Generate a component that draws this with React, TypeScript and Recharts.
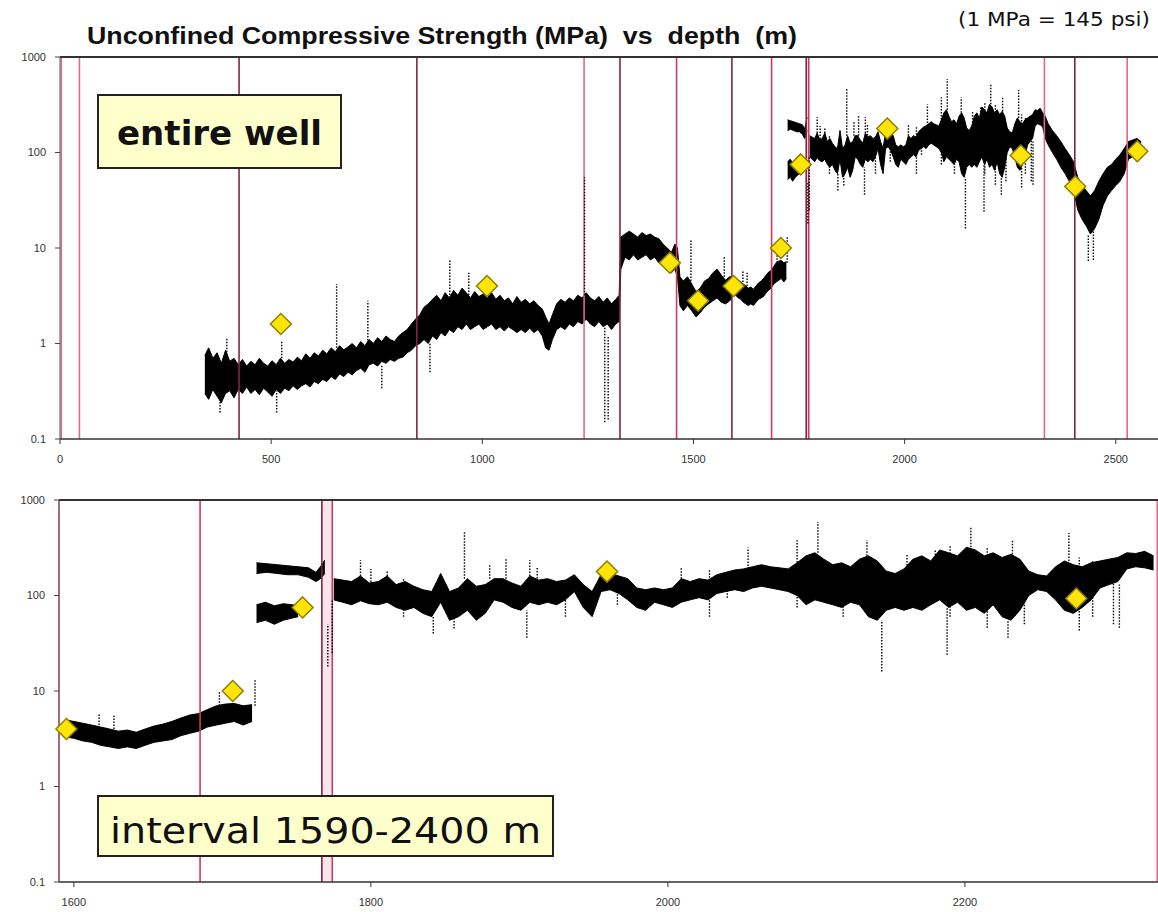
import React from 'react';
import { ComposedChart, XAxis, YAxis, Area, Line, ReferenceLine, ReferenceArea } from 'recharts';

// ---------- data (depth m, UCS MPa) ----------
const yTicks = [0.1, 1, 10, 100, 1000];
const topXTicks = [0, 500, 1000, 1500, 2000, 2500];
const bottomXTicks = [1600, 1800, 2000, 2200];
const topDomain: [number, number] = [0, 2600];
const bottomDomain: [number, number] = [1590, 2330];

// dense log band: [depth, low, high]
const bandShallow: [number, number, number][] = [
  [343, 0.3, 0.75], [352, 0.26, 0.9], [362, 0.33, 0.7], [372, 0.28, 0.8], [382, 0.24, 0.62],
  [392, 0.3, 0.85], [402, 0.32, 0.65], [412, 0.27, 0.7], [422, 0.33, 0.6], [432, 0.3, 0.68],
  [442, 0.35, 0.58], [452, 0.3, 0.65], [462, 0.33, 0.6], [472, 0.29, 0.7], [482, 0.34, 0.62],
  [492, 0.31, 0.58], [502, 0.28, 0.66], [512, 0.33, 0.6], [522, 0.3, 0.7], [532, 0.34, 0.62],
  [542, 0.32, 0.68], [552, 0.36, 0.64], [562, 0.33, 0.72], [572, 0.36, 0.66], [582, 0.38, 0.78],
  [592, 0.35, 0.7], [602, 0.4, 0.8], [612, 0.38, 0.74], [622, 0.42, 0.85], [632, 0.4, 0.78],
  [642, 0.45, 0.9], [652, 0.42, 0.82], [662, 0.48, 0.95], [672, 0.45, 0.86], [682, 0.5, 0.92],
  [692, 0.47, 1.0], [702, 0.52, 0.9], [712, 0.55, 1.05], [722, 0.5, 0.95], [732, 0.6, 1.1],
  [742, 0.62, 1.0], [752, 0.58, 1.15], [762, 0.65, 1.05], [772, 0.62, 1.2], [782, 0.68, 1.1],
  [792, 0.65, 1.05], [802, 0.7, 1.2], [812, 0.72, 1.3], [822, 0.8, 1.4], [832, 0.85, 1.6],
  [842, 0.95, 1.8], [852, 1.0, 2.0], [862, 1.1, 2.4], [872, 1.0, 2.6], [882, 1.2, 2.9],
  [892, 1.1, 3.2], [902, 1.3, 2.8], [912, 1.2, 3.4], [922, 1.4, 3.0], [932, 1.3, 3.6],
  [942, 1.5, 3.2], [952, 1.4, 3.8], [962, 1.6, 3.4], [972, 1.4, 3.0], [982, 1.5, 3.5],
  [992, 1.6, 3.1], [1002, 1.4, 3.3], [1012, 1.5, 3.0], [1022, 1.6, 3.4], [1032, 1.4, 2.9],
  [1042, 1.5, 3.2], [1052, 1.35, 2.8], [1062, 1.5, 3.0], [1072, 1.4, 2.6], [1082, 1.3, 3.1],
  [1092, 1.4, 2.7], [1102, 1.3, 2.9], [1112, 1.45, 2.6], [1122, 1.3, 2.8], [1132, 1.4, 2.5],
  [1142, 1.2, 2.3], [1150, 0.9, 1.9], [1158, 0.85, 1.6], [1166, 1.1, 2.0], [1176, 1.4, 2.6],
  [1186, 1.5, 2.9], [1196, 1.4, 2.7], [1206, 1.6, 3.0], [1216, 1.5, 2.8], [1226, 1.7, 3.2],
  [1236, 1.6, 3.0], [1246, 1.8, 3.4], [1256, 1.6, 3.0], [1266, 1.5, 2.8], [1276, 1.7, 3.1],
  [1286, 1.5, 2.7], [1296, 1.6, 3.0], [1306, 1.4, 2.6], [1316, 1.6, 2.9], [1324, 1.7, 3.2],
  [1328, 6, 13], [1338, 8, 14], [1348, 7.5, 15], [1358, 8.5, 14], [1368, 7.5, 13],
  [1378, 8, 14.5], [1388, 8.5, 13.5], [1398, 7.5, 14], [1408, 8, 13], [1418, 7, 12.5],
  [1428, 6.5, 11], [1438, 6, 10], [1448, 5.5, 9], [1456, 6, 11], [1462, 5, 10],
  [1468, 2.5, 5], [1476, 2.2, 4.5], [1486, 2.5, 5], [1496, 2.2, 4.2], [1506, 1.9, 3.5],
  [1516, 2.1, 3.8], [1526, 2.4, 4.5], [1536, 2.6, 4.8], [1546, 2.8, 5.5], [1556, 3.0, 6],
  [1566, 2.7, 5.2], [1576, 2.6, 4.6], [1586, 2.8, 5],
  [1594, 3.3, 5.0], [1600, 3.2, 4.8], [1606, 3.0, 4.6], [1612, 2.9, 4.4], [1618, 2.7, 4.2],
  [1624, 2.6, 4.0], [1630, 2.5, 3.8], [1636, 2.6, 3.9], [1642, 2.5, 3.7], [1648, 2.7, 4.0],
  [1654, 2.9, 4.3], [1660, 3.0, 4.5], [1666, 3.1, 4.8], [1672, 3.4, 5.2], [1678, 3.6, 5.6],
  [1684, 3.8, 5.8], [1690, 4.2, 6.4], [1696, 4.4, 7.0], [1702, 4.6, 7.3], [1708, 4.8, 7.4],
  [1714, 4.4, 7.0], [1720, 4.8, 7.2],
];

const bandUpperBranch: [number, number, number][] = [
  [1723, 170, 220], [1730, 175, 215], [1737, 170, 210], [1744, 165, 205], [1751, 165, 200],
  [1758, 155, 195], [1763, 140, 175], [1766, 150, 200], [1769, 170, 235],
];

const bandLowerBranch: [number, number, number][] = [
  [1723, 52, 80], [1729, 55, 85], [1735, 50, 78], [1741, 55, 82], [1747, 58, 80], [1751, 60, 78],
];

const bandDeep: [number, number, number][] = [
  [1775, 90, 150], [1781, 85, 145], [1787, 80, 140], [1793, 88, 160], [1799, 82, 135],
  [1805, 80, 140], [1811, 85, 160], [1817, 75, 130], [1823, 70, 140], [1829, 75, 125],
  [1835, 65, 115], [1841, 60, 110], [1847, 85, 170], [1853, 55, 110], [1859, 60, 120],
  [1865, 70, 150], [1871, 55, 125], [1877, 65, 130], [1883, 90, 150], [1889, 85, 150],
  [1895, 75, 135], [1901, 70, 125], [1907, 85, 160], [1913, 80, 145], [1919, 85, 150],
  [1925, 80, 140], [1931, 90, 145], [1937, 110, 165], [1943, 75, 130], [1949, 60, 110],
  [1955, 110, 165], [1961, 115, 170], [1967, 105, 160], [1973, 90, 150], [1979, 75, 120],
  [1985, 70, 115], [1991, 85, 120], [1997, 80, 115], [2003, 75, 120], [2009, 85, 150],
  [2015, 90, 140], [2021, 95, 150], [2027, 90, 145], [2033, 105, 165], [2039, 110, 175],
  [2045, 115, 185], [2051, 110, 190], [2057, 120, 200], [2063, 125, 210], [2069, 120, 200],
  [2075, 115, 195], [2081, 110, 190], [2087, 100, 220], [2093, 80, 260], [2099, 90, 280],
  [2105, 85, 240], [2111, 80, 210], [2117, 75, 220], [2123, 85, 200], [2129, 80, 240],
  [2135, 60, 260], [2141, 55, 230], [2147, 70, 180], [2153, 75, 170], [2159, 70, 190],
  [2165, 75, 240], [2171, 70, 260], [2177, 80, 230], [2183, 90, 300], [2189, 75, 280],
  [2195, 85, 260], [2201, 70, 320], [2207, 75, 300], [2213, 65, 260], [2219, 80, 280],
  [2225, 60, 250], [2231, 55, 270], [2237, 70, 240], [2243, 100, 180], [2249, 115, 165],
  [2255, 110, 160], [2261, 90, 200], [2267, 70, 230], [2273, 65, 210], [2279, 75, 200],
  [2285, 90, 220], [2291, 120, 230], [2297, 130, 240], [2303, 140, 250], [2309, 190, 280],
  [2315, 200, 275], [2321, 195, 290], [2327, 185, 260], [2333, 140, 240], [2340, 120, 200],
  [2350, 100, 170], [2360, 85, 150], [2370, 70, 130], [2380, 60, 110], [2390, 50, 95],
  [2400, 40, 80], [2410, 25, 55], [2420, 20, 45], [2430, 17, 40], [2440, 14, 35],
  [2450, 16, 40], [2460, 20, 50], [2470, 28, 60], [2480, 35, 70], [2490, 40, 75],
  [2500, 45, 85], [2510, 50, 95], [2520, 60, 110], [2530, 85, 130], [2540, 90, 135],
  [2550, 95, 140], [2560, 90, 130],
];

// isolated dotted excursions: [depth, low, high]
const spikes: [number, number, number][] = [
  [379, 0.19, 0.3], [395, 0.7, 1.15], [513, 0.19, 0.32], [525, 0.65, 1.05], [655, 0.9, 4.2],
  [729, 1.0, 2.8], [762, 0.34, 0.6], [876, 0.5, 1.0], [923, 3.0, 7.6], [968, 3.0, 5.5],
  [1242, 3.2, 55], [1290, 0.15, 1.5], [1298, 0.16, 1.2], [1494, 4.5, 12], [1573, 5, 8.2],
  [1617, 4.4, 5.9], [1627, 4.0, 5.5], [1698, 7, 10], [1722, 7, 13], [1771, 18, 50],
  [1774, 25, 90], [1793, 160, 234], [1800, 120, 190], [1811, 160, 184], [1822, 60, 150],
  [1842, 40, 60], [1856, 45, 90], [1863, 150, 460], [1880, 150, 210], [1891, 150, 245],
  [1905, 36, 70], [1907, 160, 234], [1912, 140, 200], [1931, 60, 90], [1966, 80, 150],
  [2009, 150, 196], [2028, 60, 190], [2040, 95, 170], [2054, 190, 318], [2087, 75, 380],
  [2101, 280, 590], [2118, 60, 90], [2134, 260, 380], [2144, 16, 55], [2161, 75, 276],
  [2180, 120, 300], [2188, 24, 75], [2190, 60, 330], [2204, 320, 520], [2215, 46, 318],
  [2229, 36, 55], [2232, 270, 380], [2240, 50, 134], [2270, 230, 450], [2277, 43, 250],
  [2286, 60, 230], [2300, 50, 180], [2304, 46, 130], [2435, 7.3, 14], [2447, 7.5, 16],
];

// lab core tests: [depth, UCS]
const coreTests: [number, number][] = [
  [523, 1.6], [1011, 4], [1444, 7], [1511, 2.8], [1595, 4], [1707, 10],
  [1754, 75], [1959, 178], [2275, 93], [2404, 44], [2551, 103],
];

// formation boundaries: depth and tone category
const boundaryDepths = [3, 46, 424, 845, 1241, 1326, 1460, 1591, 1685, 1767, 1773, 2331, 2403, 2527];
const boundaryTones = ['light', 'light', 'dark', 'dark', 'light', 'dark', 'mid', 'dark', 'mid', 'dark', 'mid', 'light', 'dark', 'light'];
const bottomBoundaryDepths = [1590, 1685, 1767, 1774, 2329.5];
const bottomBoundaryTones = ['light', 'mid', 'dark', 'mid', 'light'];
const shadedZone: [number, number] = [1767, 1774];

// ---------- helpers ----------
const toneColor: Record<string, string> = { light: '#e2678a', mid: '#d03a60', dark: '#832542' };

const within = <T extends number[]>(rows: T[], dom: [number, number]) =>
  rows.filter((r) => r[0] >= dom[0] && r[0] <= dom[1]);

const toBand = (rows: [number, number, number][]) => rows.map(([d, lo, hi]) => ({ d, r: [lo, hi] }));

const renderDiamond = (props: any) => {
  const { cx, cy, index } = props;
  if (cx == null || cy == null) return <g key={`dm-${index}`} />;
  const r = 10.5;
  return (
    <polygon
      key={`dm-${index}`}
      points={`${cx},${cy - r} ${cx + r},${cy} ${cx},${cy + r} ${cx - r},${cy}`}
      fill="#ffe40a"
      stroke="#8f7f00"
      strokeWidth={1.5}
    />
  );
};

type ChartProps = {
  domain: [number, number];
  xTicks: number[];
  yAxisWidth: number;
  depths: number[];
  tones: string[];
};

function UcsChart({ domain, xTicks, yAxisWidth, depths, tones }: ChartProps) {
  const bands = [bandShallow, bandUpperBranch, bandLowerBranch, bandDeep].map((b) => toBand(within(b, domain)));
  const sp = within(spikes, domain);
  const cores = within(coreTests, domain).map(([d, v]) => ({ d, v }));
  const tick = { fontSize: 11, fill: '#333333', fontFamily: 'Liberation Sans, Arial, sans-serif' };
  return (
    <ComposedChart width={1158} height={469} margin={{ top: 57, right: 0, bottom: 0, left: 0 }}>
      <XAxis
        type="number"
        dataKey="d"
        domain={domain}
        ticks={xTicks}
        interval={0}
        height={30}
        tick={tick}
        tickSize={5}
        tickMargin={11}
        tickLine={{ stroke: '#333' }}
        axisLine={{ stroke: '#333', strokeWidth: 1.5 }}
      />
      <YAxis
        type="number"
        dataKey="v"
        scale="log"
        domain={[0.1, 1000]}
        ticks={yTicks}
        interval={0}
        width={yAxisWidth}
        tick={tick}
        tickSize={5}
        tickMargin={9}
        tickFormatter={(v: number) => String(v)}
        tickLine={{ stroke: '#444' }}
        axisLine={{ stroke: '#555' }}
      />
      <ReferenceArea x1={shadedZone[0]} x2={shadedZone[1]} fill="#f4a3b8" fillOpacity={0.28} stroke="none" ifOverflow="hidden" />
      {depths.map((d, i) => (
        <ReferenceLine key={`b-${i}`} x={d} stroke={toneColor[tones[i]]} strokeWidth={1.6} />
      ))}
      <ReferenceLine y={1000} stroke="#333" strokeWidth={2} />
      {bands.map((b, i) =>
        b.length ? (
          <Area
            key={`band-${i}`}
            data={b}
            dataKey="r"
            type="linear"
            stroke="#000"
            strokeWidth={1}
            fill="#000"
            fillOpacity={1}
            dot={false}
            activeDot={false}
            isAnimationActive={false}
          />
        ) : null
      )}
      {sp.map(([d, lo, hi], i) => (
        <Line
          key={`sp-${i}`}
          data={[{ d, v: lo }, { d, v: hi }]}
          dataKey="v"
          stroke="#000"
          strokeWidth={1.4}
          strokeDasharray="1.5 1.5"
          dot={false}
          activeDot={false}
          isAnimationActive={false}
        />
      ))}
      <Line
        data={cores}
        dataKey="v"
        stroke="none"
        dot={renderDiamond}
        activeDot={false}
        isAnimationActive={false}
      />
    </ComposedChart>
  );
}

export default function App() {
  const comic = 'DejaVu Sans, Verdana, sans-serif';
  return (
    <div style={{ position: 'absolute', left: 0, top: 0, width: 1158, height: 912, background: '#fff', overflow: 'hidden' }}>
      <div style={{ position: 'absolute', left: 0, top: 0 }}>
        <UcsChart domain={topDomain} xTicks={topXTicks} yAxisWidth={60} depths={boundaryDepths} tones={boundaryTones} />
      </div>
      <div style={{ position: 'absolute', left: 0, top: 443 }}>
        <UcsChart domain={bottomDomain} xTicks={bottomXTicks} yAxisWidth={59} depths={bottomBoundaryDepths} tones={bottomBoundaryTones} />
      </div>
      <svg width={1158} height={912} style={{ position: 'absolute', left: 0, top: 0, pointerEvents: 'none' }}>
        <text
          x={87}
          y={44}
          fontFamily="Liberation Sans, Arial, sans-serif"
          fontWeight="bold"
          fontSize={23}
          textLength={710}
          lengthAdjust="spacingAndGlyphs"
          fill="#111"
          style={{ whiteSpace: 'pre' }}
        >
          {'Unconfined Compressive Strength (MPa)  vs  depth  (m)'}
        </text>
        <text x={958} y={26} fontFamily={comic} fontSize={19} textLength={192} lengthAdjust="spacingAndGlyphs" fill="#111">
          (1 MPa = 145 psi)
        </text>
        <rect x={98} y={95} width={243} height={73} fill="#ffffcc" stroke="#222" strokeWidth={2} />
        <text x={117} y={145} fontFamily={comic} fontWeight="bold" fontSize={34} textLength={205} lengthAdjust="spacingAndGlyphs" fill="#111">
          entire well
        </text>
        <rect x={98} y={796} width={455} height={60} fill="#ffffcc" stroke="#222" strokeWidth={2} />
        <text x={110} y={843} fontFamily={comic} fontSize={35} textLength={431} lengthAdjust="spacingAndGlyphs" fill="#111">
          interval 1590-2400 m
        </text>
      </svg>
    </div>
  );
}
